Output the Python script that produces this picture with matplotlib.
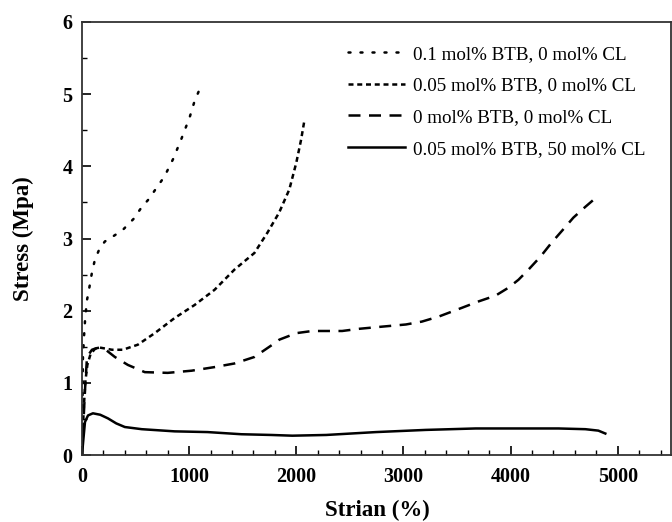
import numpy as np
import matplotlib.pyplot as plt
from matplotlib.ticker import MultipleLocator

plt.rcParams['font.family'] = ['Liberation Serif', 'DejaVu Serif']

# 0.1 mol% BTB, 0 mol% CL
x1 = [0, 9, 19, 30, 47, 65, 93, 121, 167, 214, 300, 381, 480, 555, 620, 695, 770, 850, 925, 1005, 1050, 1090]
y1 = [0, 1.36, 1.64, 1.9, 2.15, 2.29, 2.53, 2.71, 2.87, 2.96, 3.04, 3.12, 3.27, 3.43, 3.54, 3.7, 3.86, 4.1, 4.37, 4.68, 4.9, 5.04]

# 0.05 mol% BTB, 0 mol% CL
x2 = [0, 15, 30, 50, 80, 120, 167, 280, 381, 521, 679, 865, 1051, 1237, 1423, 1609, 1730, 1840, 1935, 2000, 2045, 2075]
y2 = [0, 0.6, 1.0, 1.25, 1.4, 1.47, 1.49, 1.46, 1.46, 1.53, 1.69, 1.9, 2.08, 2.29, 2.57, 2.8, 3.08, 3.36, 3.68, 4.05, 4.37, 4.63]

# 0 mol% BTB, 0 mol% CL
x3 = [0, 15, 30, 47, 93, 130, 167, 230, 307, 428, 586, 800, 1023, 1237, 1423, 1609, 1777, 1842, 2000, 2149,
      2428, 2586, 2800, 3023, 3172, 3330, 3544, 3702, 3860, 3981, 4074, 4167, 4279, 4381, 4493, 4586, 4698, 4800]
y3 = [0, 0.5, 0.95, 1.36, 1.46, 1.48, 1.49, 1.45, 1.36, 1.25, 1.15, 1.14, 1.17, 1.22, 1.27, 1.36, 1.53, 1.6, 1.69, 1.72,
      1.72, 1.75, 1.78, 1.81, 1.85, 1.92, 2.04, 2.13, 2.21, 2.32, 2.43, 2.57, 2.75, 2.94, 3.13, 3.29, 3.44, 3.57]

# 0.05 mol% BTB, 50 mol% CL
x4 = [0, 10, 28, 56, 102, 170, 242, 320, 400, 558, 865, 1172, 1488, 1767, 1963, 2279, 2744, 3209, 3674,
      4447, 4698, 4819, 4884]
y4 = [0, 0.17, 0.46, 0.55, 0.58, 0.56, 0.51, 0.44, 0.39, 0.36, 0.33, 0.32, 0.29, 0.28, 0.27, 0.28, 0.32, 0.35, 0.37,
      0.37, 0.36, 0.34, 0.3]

labels = ["0.1 mol% BTB, 0 mol% CL", "0.05 mol% BTB, 0 mol% CL",
          "0 mol% BTB, 0 mol% CL", "0.05 mol% BTB, 50 mol% CL"]

fig = plt.figure(figsize=(6.72, 5.22), dpi=100)
ax = fig.add_axes([0.122, 0.128, 0.877, 0.83])

lw = 1.8
ax.plot(x1, y1, color='black', lw=lw, linestyle=(0, (0.8, 4.0)), dash_capstyle='round', label=labels[0])
ax.plot(x2, y2, color='black', lw=lw, linestyle=(0, (2.0, 1.5)), label=labels[1])
ax.plot(x3, y3, color='black', lw=lw, linestyle=(0, (4.8, 3.4)), label=labels[2])
ax.plot(x4, y4, color='black', lw=lw, linestyle='-', label=labels[3])

ax.set_xlim(0, 5500)
ax.set_ylim(0, 6)
ax.xaxis.set_major_locator(MultipleLocator(1000))
ax.xaxis.set_minor_locator(MultipleLocator(200))
ax.yaxis.set_major_locator(MultipleLocator(1))
ax.yaxis.set_minor_locator(MultipleLocator(0.5))
ax.tick_params(which='major', direction='in', length=6.5, width=1.2, labelsize=14.5)
ax.tick_params(axis='x', which='major', pad=8.5)
ax.tick_params(axis='y', which='major', pad=7)
ax.tick_params(which='minor', direction='in', length=3.5, width=1.0)
for lab in ax.get_xticklabels() + ax.get_yticklabels():
    lab.set_fontweight('bold')
for s in ax.spines.values():
    s.set_linewidth(1.3)
    s.set_color('#333333')

ax.set_xlabel("Strian (%)", fontsize=16.5, fontweight='bold')
ax.set_ylabel("Stress (Mpa)", fontsize=16.5, fontweight='bold')
ax.xaxis.set_label_coords(0.502, -0.103)
ax.yaxis.set_label_coords(-0.082, 0.5)

ax.legend(loc='upper right', frameon=False, fontsize=13.7, handlelength=3.0,
          handletextpad=0.4, labelspacing=0.75, bbox_to_anchor=(0.985, 0.985))

fig.savefig("out.png", dpi=100)
